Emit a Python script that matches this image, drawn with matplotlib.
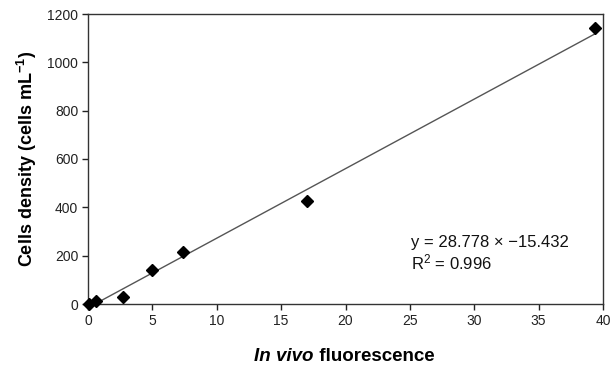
import matplotlib
matplotlib.use("Agg")
import matplotlib.pyplot as plt
import numpy as np

plt.rcParams['font.family'] = ['Liberation Sans', 'DejaVu Sans']
plt.rcParams['mathtext.fontset'] = 'custom'
plt.rcParams['mathtext.rm'] = 'Liberation Sans'
plt.rcParams['mathtext.bf'] = 'Liberation Sans:bold'
plt.rcParams['mathtext.it'] = 'Liberation Sans:italic'

fluorescence = [0.05, 0.65, 2.7, 5.0, 7.4, 17.0, 39.4]
cell_density = [0, 12, 28, 141, 214, 427, 1142]
slope = 28.778
intercept = -15.432
r2 = 0.996
xticks = [0, 5, 10, 15, 20, 25, 30, 35, 40]
yticks = [0, 200, 400, 600, 800, 1000, 1200]

fig = plt.figure(figsize=(6.12, 3.67), dpi=100)
ax = fig.add_axes([88/612, 1-304/367, (603-88)/612, (304-14)/367])

xl = np.array([min(fluorescence), max(fluorescence)])
ax.plot(xl, slope*xl + intercept, color='#555555', lw=1.0, zorder=2)
ax.plot(fluorescence, cell_density, 'D', color='black', ms=6.5, zorder=3, clip_on=False)

ax.set_xlim(0, 40)
ax.set_ylim(0, 1200)
ax.set_xticks(xticks)
ax.set_yticks(yticks)
ax.tick_params(direction='out', length=4, width=1, labelsize=10, colors='#222222', pad=3)
for s in ax.spines.values():
    s.set_color('#333333')
    s.set_linewidth(1.0)

ax.set_ylabel(r'Cells density (cells mL$^{\mathbf{-1}}$)', fontsize=13, fontweight='bold', labelpad=6)

t1 = fig.text(254/612, 1-361/367, 'In vivo', fontsize=13.5, fontweight='bold', fontstyle='italic', va='baseline')
ax.annotate(' fluorescence', xy=(1, 0), xycoords=t1, va='bottom', ha='left',
            fontsize=13.5, fontweight='bold', annotation_clip=False)

ax.text(25.1, 256, 'y = 28.778 × −15.432', fontsize=12, va='center', ha='left', color='#111111')
ax.text(25.1, 170, r'R$^2$ = 0.996', fontsize=12, va='center', ha='left', color='#111111')

fig.savefig('out.png', dpi=100)
